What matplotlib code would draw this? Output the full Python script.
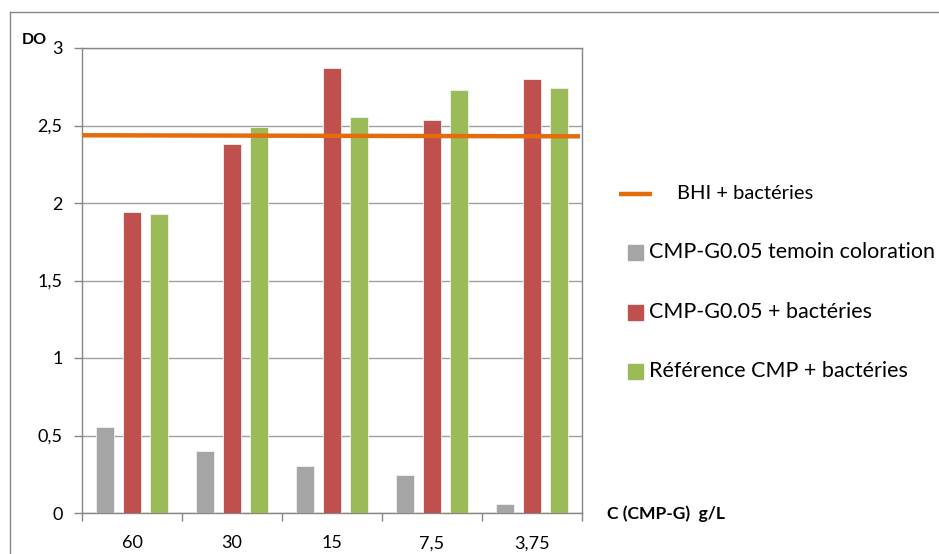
"""
DO des bacteries en fonction de la concentration en CMP-G
"""

import numpy as np
import matplotlib.pyplot as plt
from matplotlib.patches import Rectangle
from matplotlib.lines import Line2D

categories = ['60', '30', '15', '7,5', '3,75']
temoin = [0.555, 0.40, 0.305, 0.247, 0.056]
cmp_g = [1.94, 2.38, 2.873, 2.537, 2.798]
reference = [1.93, 2.488, 2.557, 2.729, 2.74]
bhi = [2.437, 2.43]

series_labels = ['CMP-G0.05 temoin coloration', 'CMP-G0.05 + bactéries',
                 'Référence CMP + bactéries']
line_label = 'BHI + bactéries'
y_ticks = [0, 0.5, 1, 1.5, 2, 2.5, 3]
y_tick_labels = ['0', '0,5', '1', '1,5', '2', '2,5', '3']


def main():
    """
    Bar chart with horizontal reference line
    """
    plt.rcParams['font.family'] = ['Lato', 'DejaVu Sans']
    W, H = 939, 554
    fig = plt.figure(figsize=(W / 100, H / 100), dpi=100)

    # outer chart border
    fig.add_artist(Line2D([10 / W, 1], [1 - 12 / H, 1 - 12 / H], color='#868686', lw=1))
    fig.add_artist(Line2D([10 / W, 10 / W], [0, 1 - 12 / H], color='#868686', lw=1))

    ax = fig.add_axes([82 / W, 41 / H, 500 / W, 465 / H])
    colors = ['#A5A5A5', '#C0504D', '#9BBB59']
    width = 0.18
    offsets = [-0.275, 0, 0.27]
    x = np.arange(len(categories))
    for vals, off, col in zip([temoin, cmp_g, reference], offsets, colors):
        ax.bar(x + off, vals, width=width, color=col, edgecolor='#F2F2F2',
               linewidth=0.6, zorder=3)

    ax.plot([-0.5, len(categories) - 0.52], bhi, color='#E46C0A', lw=3.2, zorder=4,
            solid_capstyle='butt')

    ax.set_xlim(-0.5, len(categories) - 0.5)
    ax.set_ylim(0, 3)
    ax.set_yticks(y_ticks)
    ax.set_yticklabels(y_tick_labels)
    ax.set_xticks(x)
    ax.set_xticklabels(categories)
    ax.set_xticks(np.arange(-0.5, len(categories)), minor=True)
    ax.tick_params(axis='x', which='major', length=0, pad=16, labelsize=13)
    ax.tick_params(axis='x', which='minor', length=6, color='#868686', width=1)
    ax.tick_params(axis='y', length=6, color='#868686', width=1, pad=8, labelsize=13)
    ax.grid(axis='y', color='#A0A0A0', lw=1, zorder=0)
    for side in ['left', 'right', 'top', 'bottom']:
        ax.spines[side].set_color('#868686')
        ax.spines[side].set_linewidth(1)

    fig.text(22 / W, 1 - 40 / H, 'DO', fontsize=11.5, fontweight='bold', va='center')
    fig.text(607 / W, 1 - 514 / H, 'C (CMP-G)  g/L', fontsize=12.6, fontweight='bold',
             va='center')

    # legend drawn by hand
    fig.add_artist(Line2D([619 / W, 652 / W], [1 - 194 / H, 1 - 194 / H],
                          color='#E46C0A', lw=3.2, solid_capstyle='butt'))
    fig.text(677 / W, 1 - 193 / H, line_label, fontsize=14.5, va='center')
    for i, (lab, col) in enumerate(zip(series_labels, colors)):
        yc = 253 + i * 59.5
        fig.add_artist(Rectangle((628 / W, 1 - (yc + 7) / H), 15 / W, 15 / H,
                                 color=col, transform=fig.transFigure))
        fig.text(649 / W, 1 - (yc - 1) / H, lab, fontsize=15.5, va='center')

    fig.savefig('out.png', dpi=100)


if __name__ == "__main__":
    main()
